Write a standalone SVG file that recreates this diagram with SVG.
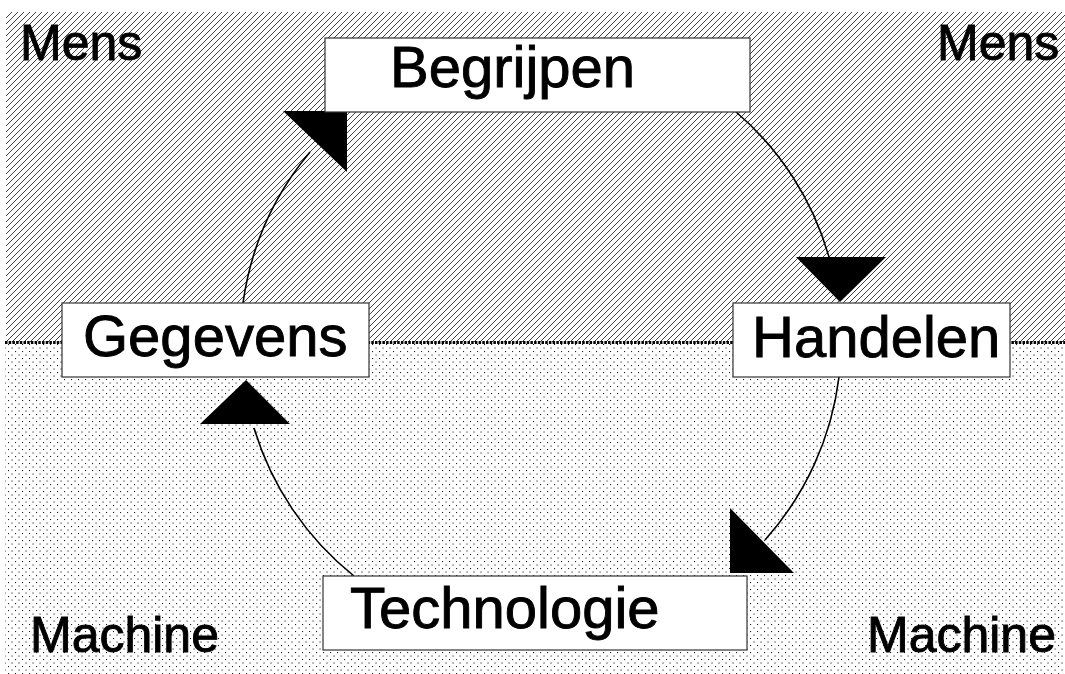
<svg xmlns="http://www.w3.org/2000/svg" width="1065" height="674" viewBox="0 0 1065 674">
<style>
.lbl{font-family:"Liberation Sans",Arial,sans-serif;font-size:58px;fill:#000;stroke:#000;stroke-width:0.9}
.corner{font-family:"Liberation Sans",Arial,sans-serif;font-size:50px;fill:#000;stroke:#000;stroke-width:0.9}
.box{fill:#fff;stroke:#333;stroke-width:1.2}
.arc{fill:none;stroke:#000;stroke-width:1.6}
.head{fill:#000}
</style>
<defs>
<pattern id="hatch" width="6" height="6" patternUnits="userSpaceOnUse">
<path d="M-1,7 L7,-1 M-4,4 L4,-4 M2,10 L10,2" stroke="#111" stroke-width="0.8"/>
</pattern>
<pattern id="dots" width="7" height="7" patternUnits="userSpaceOnUse">
<rect x="1" y="1" width="1.1" height="1.1" fill="#222"/>
<rect x="4.5" y="4.5" width="1.1" height="1.1" fill="#222"/>
</pattern>
</defs>
<rect width="1065" height="674" fill="#fff"/>
<g id="zone-mens"><rect x="6" y="12" width="1059" height="330" fill="url(#hatch)"/></g>
<g id="zone-machine"><rect x="5" y="343" width="1060" height="331" fill="url(#dots)"/></g>
<g id="boundary"><line x1="5" y1="342.5" x2="1065" y2="342.5" stroke="#000" stroke-width="3" stroke-dasharray="2.5 1.2"/></g>
<g id="connectors">
<path class="arc" d="M243,303 A300,300 0 0 1 310,152"/>
<polygon class="head" points="283,111 347,111 347,172"/>
<path class="arc" d="M735,111 A300,300 0 0 1 829,257"/>
<polygon class="head" points="796,257 886,257 840,302"/>
<path class="arc" d="M839,377 A300,300 0 0 1 765,540"/>
<polygon class="head" points="730,508 730,573 794,573"/>
<path class="arc" d="M354,576 A300,300 0 0 1 254,428"/>
<polygon class="head" points="200,424 290,424 246,380"/>
</g>
<g id="corner-labels">
<text class="corner" x="20" y="60">Mens</text>
<text class="corner" x="937" y="60">Mens</text>
<text class="corner" x="30" y="652">Machine</text>
<text class="corner" x="867" y="652">Machine</text>
</g>
<g id="node-begrijpen"><rect class="box" x="325" y="38" width="425" height="74"/><text class="lbl" x="390" y="87">Begrijpen</text></g>
<g id="node-gegevens"><rect class="box" x="62" y="303" width="307" height="74"/><text class="lbl" x="83" y="356">Gegevens</text></g>
<g id="node-handelen"><rect class="box" x="733" y="303" width="277" height="74"/><text class="lbl" x="752" y="357">Handelen</text></g>
<g id="node-technologie"><rect class="box" x="323" y="576" width="424" height="74"/><text class="lbl" x="350" y="628">Technologie</text></g>
</svg>
